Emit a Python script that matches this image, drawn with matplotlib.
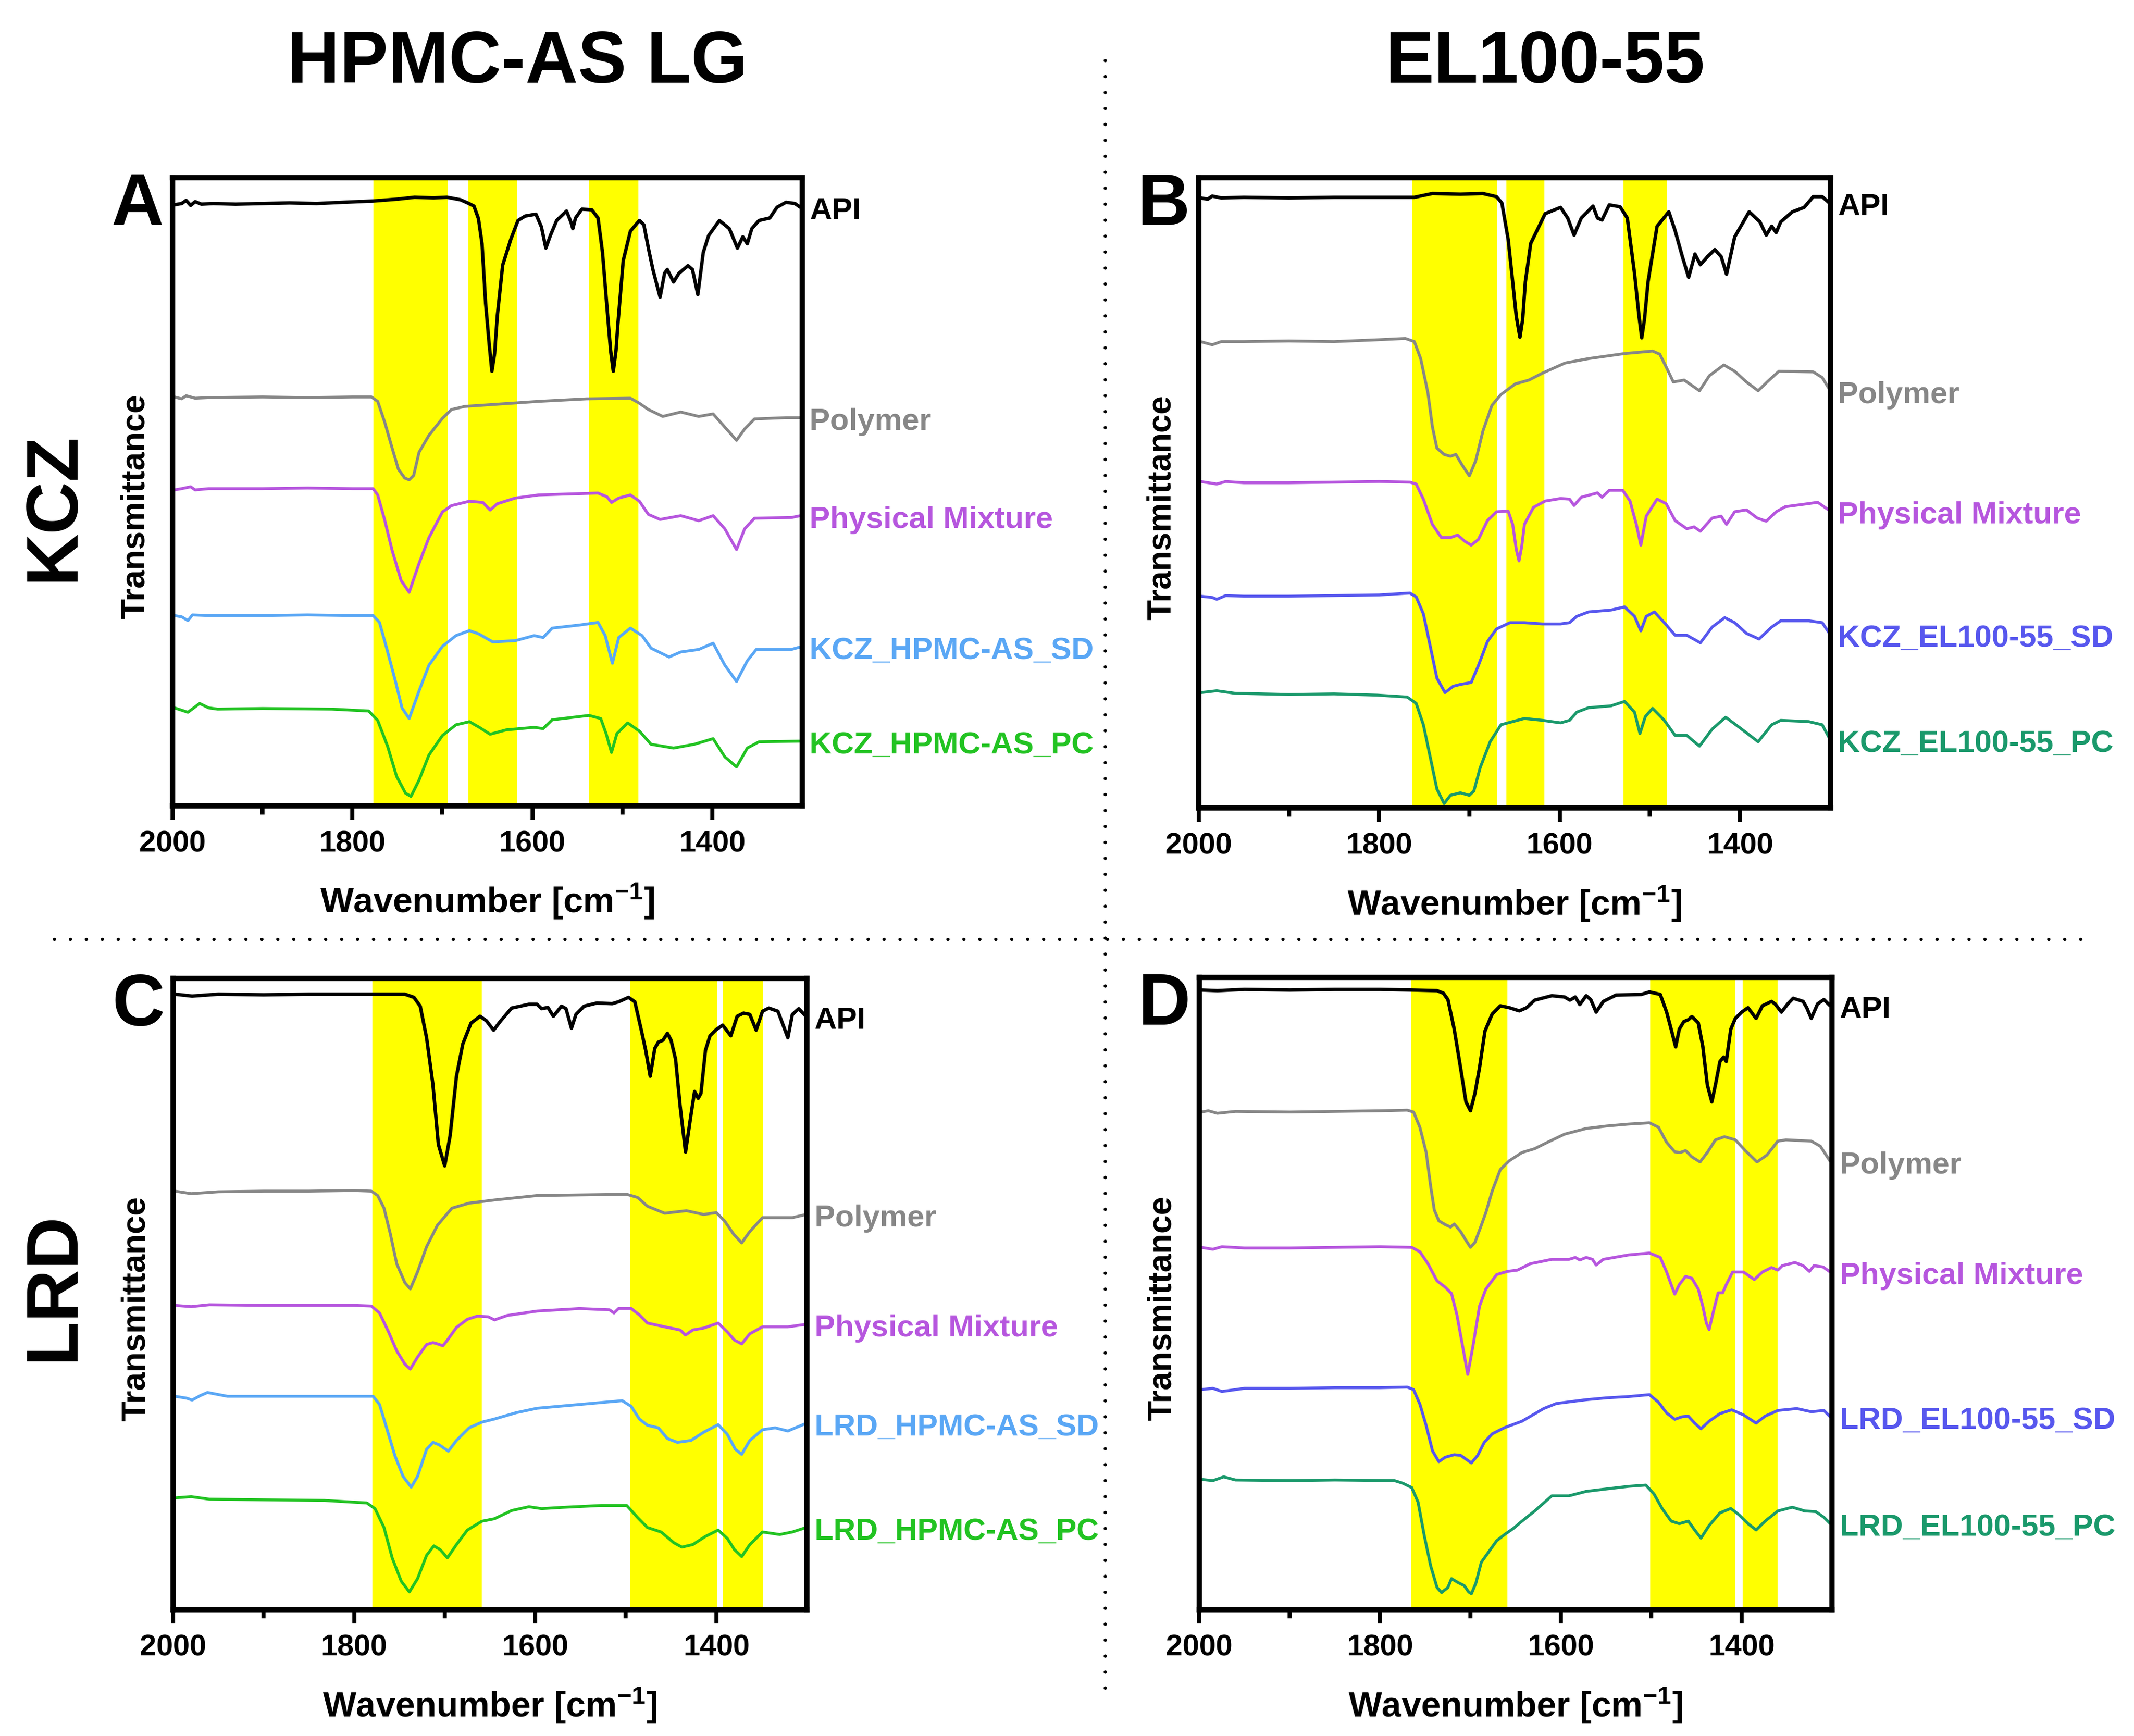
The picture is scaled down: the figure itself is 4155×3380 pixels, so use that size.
import matplotlib
matplotlib.use('Agg')
import matplotlib.pyplot as plt
from matplotlib.lines import Line2D

plt.rcParams['font.family'] = ['Liberation Sans', 'DejaVu Sans']
plt.rcParams['font.weight'] = 'bold'
plt.rcParams['mathtext.fontset'] = 'custom'
plt.rcParams['mathtext.rm'] = 'Liberation Sans:bold'
plt.rcParams['mathtext.it'] = 'Liberation Sans:bold'
plt.rcParams['mathtext.bf'] = 'Liberation Sans:bold'

# ---------------- data (wavenumber [cm-1], offset transmittance [a.u.]) ----------------
COL_TITLES = ['HPMC-AS LG', 'EL100-55']
ROW_TITLES = ['KCZ', 'LRD']
PANEL_LETTERS = ['A', 'B', 'C', 'D']
X_MAJOR = [2000, 1800, 1600, 1400]
X_MINOR = [1900, 1700, 1500]
X_LABEL = r'Wavenumber [cm$^{-1}$]'
Y_LABEL = 'Transmittance'

A_BANDS = [(1777, 1694), (1671, 1617), (1537, 1482)]
B_BANDS = [(1763, 1669), (1659, 1617), (1529, 1481)]
C_BANDS = [(1780, 1659), (1495, 1399), (1393, 1348)]
D_BANDS = [(1766, 1659), (1501, 1407), (1399, 1360)]

A_NAMES = ['API', 'Polymer', 'Physical Mixture', 'KCZ_HPMC-AS_SD', 'KCZ_HPMC-AS_PC']
B_NAMES = ['API', 'Polymer', 'Physical Mixture', 'KCZ_EL100-55_SD', 'KCZ_EL100-55_PC']
C_NAMES = ['API', 'Polymer', 'Physical Mixture', 'LRD_HPMC-AS_SD', 'LRD_HPMC-AS_PC']
D_NAMES = ['API', 'Polymer', 'Physical Mixture', 'LRD_EL100-55_SD', 'LRD_EL100-55_PC']

HPMC_COLORS = ['#000000', '#878787', '#B656DE', '#5AA7F5', '#22C322']
EL_COLORS = ['#000000', '#878787', '#B656DE', '#5757EE', '#1A996B']

A_API = [(1998, 95.7), (1990, 95.9), (1985, 96.4), (1980, 95.6), (1975, 96.2), (1968, 95.8), (1955, 95.9),
         (1930, 95.8), (1900, 95.9), (1870, 96.0), (1840, 95.9), (1810, 96.1), (1777, 96.3), (1750, 96.6),
         (1731, 96.9), (1710, 96.8), (1695, 96.9), (1680, 96.5), (1672, 96.0), (1665, 95.5), (1660, 93.5),
         (1656, 89.5), (1652, 80.0), (1648, 73.5), (1645, 69.2), (1642, 72.0), (1639, 78.0), (1633, 86.1),
         (1624, 90.2), (1616, 93.2), (1608, 93.9), (1596, 94.2), (1590, 92.2), (1585, 88.8), (1580, 90.8),
         (1573, 93.2), (1562, 94.7), (1557, 92.9), (1555, 91.9), (1552, 93.6), (1545, 95.0), (1534, 94.9),
         (1527, 93.6), (1522, 88.1), (1517, 79.3), (1513, 72.5), (1510, 69.2), (1507, 72.5), (1505, 76.6),
         (1499, 86.8), (1491, 91.5), (1481, 93.2), (1476, 92.5), (1471, 88.8), (1466, 85.4), (1458, 81.0),
         (1453, 84.8), (1450, 85.4), (1443, 83.4), (1437, 84.8), (1427, 86.0), (1422, 85.4), (1416, 81.4),
         (1410, 88.1), (1404, 90.8), (1392, 93.2), (1381, 91.9), (1372, 88.8), (1366, 90.6), (1361, 89.5),
         (1356, 91.9), (1348, 93.2), (1336, 93.6), (1328, 95.3), (1318, 96.1), (1308, 95.9), (1302, 95.3)]
A_POLY = [(1998, 65.1), (1990, 64.8), (1985, 65.3), (1975, 64.9), (1960, 65.0), (1900, 65.1), (1850, 65.0),
          (1800, 65.1), (1779, 65.1), (1772, 64.4), (1764, 61.0), (1756, 57.0), (1749, 53.6), (1742, 52.2),
          (1737, 51.9), (1732, 52.6), (1726, 56.3), (1715, 59.0), (1700, 61.7), (1690, 63.1), (1675, 63.6),
          (1644, 63.9), (1593, 64.4), (1540, 64.8), (1491, 64.9), (1481, 64.1), (1471, 63.1), (1455, 62.0),
          (1435, 62.7), (1415, 62.0), (1399, 62.4), (1386, 60.3), (1373, 58.2), (1364, 60.0), (1353, 61.6),
          (1318, 61.8), (1302, 61.8)]
A_PM = [(1998, 50.3), (1990, 50.5), (1980, 50.8), (1975, 50.3), (1960, 50.5), (1900, 50.5), (1850, 50.6),
        (1800, 50.5), (1777, 50.5), (1772, 49.5), (1764, 45.4), (1756, 40.7), (1746, 35.9), (1737, 34.0),
        (1726, 38.6), (1715, 42.7), (1700, 46.8), (1690, 47.8), (1670, 48.5), (1655, 48.3), (1647, 47.1),
        (1639, 48.1), (1619, 49.0), (1593, 49.5), (1527, 49.8), (1517, 49.2), (1512, 48.3), (1504, 49.0),
        (1491, 49.5), (1481, 48.5), (1471, 46.4), (1458, 45.6), (1435, 46.2), (1415, 45.4), (1399, 46.2),
        (1386, 44.1), (1373, 40.8), (1364, 44.1), (1353, 45.8), (1312, 45.9), (1302, 46.2)]
A_SD = [(1998, 30.3), (1990, 30.1), (1983, 29.5), (1978, 30.4), (1960, 30.3), (1900, 30.3), (1850, 30.4),
        (1800, 30.3), (1777, 30.3), (1770, 29.2), (1762, 25.1), (1752, 19.7), (1745, 15.6), (1737, 13.9),
        (1726, 18.3), (1715, 22.4), (1700, 25.4), (1685, 27.1), (1670, 27.9), (1660, 27.4), (1644, 26.1),
        (1619, 26.3), (1598, 27.1), (1588, 26.8), (1578, 28.3), (1547, 28.8), (1527, 29.2), (1519, 27.1),
        (1511, 22.7), (1504, 26.8), (1491, 28.3), (1478, 27.1), (1468, 25.1), (1448, 23.7), (1435, 24.5),
        (1415, 24.9), (1399, 25.9), (1386, 22.4), (1373, 19.8), (1361, 23.1), (1351, 24.9), (1312, 24.9),
        (1302, 25.3)]
A_PC = [(1998, 15.6), (1983, 14.9), (1970, 16.3), (1960, 15.6), (1950, 15.4), (1900, 15.5), (1823, 15.4),
        (1782, 15.1), (1772, 13.6), (1761, 9.5), (1751, 4.7), (1741, 2.0), (1735, 1.5), (1726, 4.1),
        (1715, 8.1), (1700, 11.2), (1685, 12.9), (1670, 13.4), (1659, 12.5), (1647, 11.4), (1629, 12.1),
        (1598, 12.5), (1588, 12.3), (1578, 13.7), (1537, 14.4), (1524, 13.9), (1518, 11.5), (1512, 8.5),
        (1506, 11.5), (1494, 13.2), (1481, 11.9), (1468, 9.8), (1443, 9.2), (1420, 9.8), (1399, 10.7),
        (1386, 7.8), (1373, 6.2), (1361, 9.2), (1348, 10.2), (1302, 10.3)]

B_API = [(1998, 96.8), (1990, 96.6), (1985, 97.1), (1975, 96.8), (1950, 96.9), (1900, 96.8), (1850, 96.9),
         (1800, 96.9), (1761, 96.9), (1741, 97.5), (1710, 97.4), (1685, 97.5), (1670, 97.0), (1664, 96.0),
         (1657, 90.2), (1652, 83.5), (1648, 78.0), (1644, 74.7), (1641, 77.5), (1638, 83.5), (1632, 89.6),
         (1616, 94.3), (1599, 95.3), (1591, 93.6), (1584, 90.9), (1576, 93.6), (1563, 95.5), (1558, 93.6),
         (1553, 93.3), (1545, 95.7), (1533, 95.4), (1525, 93.6), (1517, 84.8), (1512, 78.0), (1509, 74.6),
         (1506, 77.5), (1502, 83.5), (1492, 92.3), (1479, 94.6), (1472, 91.6), (1464, 87.5), (1457, 84.2),
         (1450, 87.9), (1444, 86.2), (1436, 87.5), (1428, 88.6), (1421, 87.5), (1415, 84.7), (1406, 90.6),
         (1390, 94.6), (1378, 93.0), (1371, 90.9), (1365, 92.3), (1360, 91.3), (1355, 93.0), (1342, 94.6),
         (1329, 95.3), (1319, 97.0), (1309, 97.0), (1301, 96.0)]
B_POLY = [(1998, 74.0), (1985, 73.5), (1975, 74.0), (1950, 74.0), (1900, 74.1), (1850, 74.0), (1800, 74.3),
          (1771, 74.5), (1761, 74.0), (1754, 71.3), (1746, 65.9), (1741, 60.5), (1736, 57.1), (1728, 56.1),
          (1721, 55.8), (1715, 56.1), (1708, 54.4), (1700, 52.7), (1693, 55.1), (1685, 59.8), (1675, 63.9),
          (1665, 65.6), (1649, 67.3), (1634, 67.9), (1619, 69.0), (1594, 70.6), (1568, 71.3), (1528, 72.1),
          (1497, 72.5), (1489, 72.0), (1482, 70.0), (1474, 67.6), (1462, 67.9), (1445, 66.2), (1434, 68.6),
          (1418, 70.3), (1406, 69.3), (1393, 67.6), (1380, 66.2), (1370, 67.6), (1357, 69.3), (1319, 69.2),
          (1309, 68.3), (1300, 66.2)]
B_PM = [(1998, 51.8), (1980, 51.4), (1970, 51.8), (1950, 51.6), (1900, 51.6), (1850, 51.7), (1800, 51.8),
        (1766, 51.7), (1759, 51.4), (1751, 49.0), (1741, 45.0), (1731, 42.9), (1721, 42.9), (1713, 43.3),
        (1705, 42.3), (1698, 41.7), (1690, 42.6), (1680, 45.6), (1670, 47.0), (1657, 47.1), (1652, 45.0),
        (1648, 41.0), (1645, 39.2), (1642, 41.5), (1639, 45.0), (1629, 47.7), (1616, 48.7), (1599, 49.1),
        (1589, 49.0), (1584, 48.0), (1576, 49.3), (1558, 50.0), (1553, 49.3), (1545, 50.4), (1530, 50.4),
        (1522, 48.7), (1515, 45.0), (1510, 41.7), (1504, 46.3), (1492, 49.0), (1482, 48.3), (1472, 45.6),
        (1459, 44.3), (1451, 44.6), (1444, 43.9), (1431, 46.0), (1421, 46.3), (1415, 45.0), (1406, 47.0),
        (1393, 47.3), (1381, 46.0), (1371, 45.5), (1360, 47.0), (1350, 47.8), (1329, 48.2), (1314, 48.5),
        (1300, 47.1)]
B_SD = [(1998, 33.6), (1985, 33.4), (1980, 33.1), (1970, 33.7), (1950, 33.6), (1900, 33.6), (1850, 33.7),
        (1800, 33.8), (1766, 34.1), (1759, 33.5), (1751, 30.8), (1743, 25.4), (1736, 20.6), (1727, 18.3),
        (1718, 19.3), (1710, 19.6), (1698, 19.9), (1690, 22.6), (1680, 26.4), (1670, 28.4), (1655, 29.4),
        (1639, 29.4), (1619, 29.2), (1599, 29.2), (1589, 29.4), (1581, 30.4), (1568, 31.1), (1543, 31.4),
        (1528, 31.9), (1517, 30.4), (1510, 28.1), (1504, 30.4), (1495, 31.1), (1484, 29.4), (1472, 27.4),
        (1459, 27.4), (1444, 26.2), (1431, 28.7), (1417, 30.2), (1406, 29.4), (1393, 27.7), (1379, 26.8),
        (1365, 28.7), (1355, 29.7), (1324, 29.7), (1309, 29.4), (1300, 27.5)]
B_PC = [(1998, 18.3), (1980, 18.6), (1960, 18.2), (1900, 18.0), (1850, 18.1), (1802, 17.9), (1769, 17.6),
        (1759, 16.6), (1751, 13.2), (1743, 7.8), (1736, 3.0), (1728, 0.7), (1721, 2.0), (1710, 2.4),
        (1700, 2.0), (1695, 2.7), (1688, 6.4), (1677, 10.5), (1665, 13.2), (1639, 14.2), (1619, 13.9),
        (1599, 13.5), (1589, 13.9), (1581, 15.2), (1568, 15.9), (1543, 16.2), (1528, 16.9), (1517, 15.2),
        (1511, 11.8), (1505, 14.5), (1497, 15.8), (1484, 13.9), (1472, 11.5), (1459, 11.5), (1445, 9.8),
        (1431, 12.5), (1416, 14.4), (1401, 12.8), (1380, 10.5), (1365, 13.2), (1355, 13.9), (1324, 13.7),
        (1309, 13.2), (1300, 10.8)]

C_API = [(1998, 97.5), (1979, 97.2), (1950, 97.5), (1900, 97.4), (1850, 97.5), (1800, 97.5), (1744, 97.5),
         (1734, 97.0), (1727, 95.6), (1720, 90.6), (1713, 83.2), (1707, 73.7), (1700, 70.3), (1694, 75.1),
         (1687, 84.5), (1680, 89.6), (1671, 92.9), (1661, 94.0), (1654, 93.3), (1646, 91.8), (1638, 93.3),
         (1626, 95.3), (1607, 95.9), (1598, 95.9), (1593, 95.2), (1586, 95.4), (1580, 94.0), (1571, 95.6),
         (1566, 95.2), (1560, 92.1), (1555, 94.3), (1546, 95.6), (1532, 96.1), (1515, 96.0), (1508, 96.3),
         (1497, 97.0), (1490, 96.3), (1483, 91.9), (1478, 88.6), (1473, 84.5), (1468, 88.9), (1464, 89.9),
         (1459, 90.2), (1454, 91.3), (1450, 90.2), (1445, 87.2), (1440, 79.8), (1434, 72.5), (1428, 78.4),
         (1424, 82.1), (1420, 81.0), (1417, 81.8), (1412, 88.6), (1407, 90.9), (1400, 91.9), (1393, 92.6),
         (1384, 90.9), (1377, 94.0), (1370, 94.5), (1363, 94.3), (1356, 91.8), (1349, 94.8), (1342, 95.3),
         (1332, 94.8), (1328, 93.3), (1321, 90.6), (1316, 94.3), (1309, 95.2), (1301, 94.0)]
C_POLY = [(1998, 66.3), (1980, 65.9), (1950, 66.2), (1900, 66.3), (1850, 66.3), (1800, 66.4), (1781, 66.3),
          (1774, 65.6), (1767, 63.6), (1760, 59.5), (1753, 54.8), (1744, 51.8), (1738, 50.8), (1730, 53.5),
          (1720, 57.5), (1708, 60.9), (1692, 63.6), (1673, 64.4), (1645, 64.9), (1598, 65.6), (1551, 65.7),
          (1499, 65.8), (1487, 65.3), (1476, 63.9), (1457, 62.8), (1433, 63.2), (1414, 62.6), (1400, 62.9),
          (1391, 61.6), (1381, 59.5), (1372, 58.1), (1363, 59.9), (1349, 62.1), (1316, 62.1), (1301, 62.6)]
C_PM = [(1998, 48.2), (1980, 48.0), (1960, 48.3), (1900, 48.2), (1850, 48.2), (1800, 48.2), (1781, 48.1),
        (1772, 47.0), (1762, 44.0), (1753, 41.0), (1744, 38.9), (1738, 38.1), (1730, 40.0), (1720, 42.0),
        (1713, 42.3), (1708, 42.1), (1702, 41.8), (1697, 42.7), (1687, 44.7), (1675, 46.0), (1664, 46.5),
        (1652, 46.4), (1645, 45.9), (1631, 46.6), (1598, 47.3), (1551, 47.7), (1518, 47.5), (1513, 47.0),
        (1508, 47.7), (1494, 47.7), (1485, 46.7), (1476, 45.4), (1457, 44.8), (1440, 44.3), (1434, 43.5),
        (1426, 44.3), (1414, 44.6), (1398, 45.4), (1388, 44.0), (1380, 42.7), (1372, 42.1), (1363, 43.7),
        (1349, 44.8), (1321, 44.8), (1301, 45.2)]
C_SD = [(1998, 33.8), (1985, 33.5), (1979, 33.2), (1970, 33.9), (1962, 34.4), (1940, 33.8), (1900, 33.8),
        (1850, 33.8), (1800, 33.8), (1779, 33.8), (1772, 32.5), (1765, 29.2), (1755, 24.4), (1746, 21.1),
        (1737, 19.4), (1730, 21.1), (1720, 25.4), (1713, 26.5), (1706, 26.1), (1696, 25.1), (1687, 26.8),
        (1673, 28.8), (1659, 29.7), (1645, 30.2), (1621, 31.2), (1598, 31.9), (1551, 32.5), (1504, 33.1),
        (1494, 32.2), (1485, 30.2), (1476, 29.2), (1464, 28.8), (1454, 27.1), (1443, 26.5), (1428, 26.8),
        (1414, 28.1), (1398, 29.3), (1388, 27.8), (1379, 25.4), (1372, 24.6), (1363, 26.8), (1349, 28.5),
        (1335, 28.8), (1321, 28.3), (1301, 29.5)]
C_PC = [(1998, 17.7), (1980, 17.9), (1960, 17.5), (1900, 17.4), (1833, 17.3), (1786, 16.9), (1777, 16.0),
        (1767, 13.0), (1758, 8.2), (1748, 4.5), (1739, 2.8), (1730, 4.9), (1720, 8.6), (1712, 10.1),
        (1705, 9.5), (1697, 8.2), (1687, 10.3), (1675, 12.6), (1659, 14.0), (1645, 14.4), (1626, 15.7),
        (1607, 16.3), (1593, 16.0), (1570, 16.2), (1527, 16.5), (1499, 16.5), (1487, 14.6), (1476, 13.0),
        (1461, 12.3), (1447, 10.6), (1438, 9.9), (1426, 10.3), (1412, 11.6), (1398, 12.6), (1388, 11.3),
        (1380, 9.5), (1372, 8.4), (1363, 10.3), (1349, 12.3), (1330, 11.9), (1316, 12.3), (1301, 13.0)]

D_API = [(1998, 98.0), (1980, 97.9), (1950, 98.1), (1900, 98.0), (1850, 98.1), (1800, 98.1), (1765, 98.0),
         (1737, 97.9), (1730, 97.5), (1725, 96.5), (1718, 91.8), (1711, 85.7), (1705, 80.3), (1700, 78.9),
         (1695, 81.7), (1690, 85.7), (1684, 91.5), (1676, 94.2), (1667, 95.5), (1657, 95.2), (1646, 94.7),
         (1638, 95.2), (1629, 96.4), (1610, 97.1), (1596, 96.9), (1590, 96.4), (1584, 96.9), (1579, 95.7),
         (1572, 97.1), (1567, 96.5), (1561, 94.5), (1553, 96.2), (1539, 97.2), (1511, 97.3), (1502, 97.7),
         (1490, 97.3), (1483, 94.5), (1478, 91.8), (1473, 89.0), (1469, 91.8), (1464, 93.0), (1459, 93.3),
         (1455, 93.8), (1448, 92.8), (1443, 89.1), (1438, 83.0), (1433, 80.3), (1429, 83.0), (1424, 86.7),
         (1420, 87.4), (1417, 86.7), (1412, 91.8), (1407, 93.5), (1400, 94.5), (1393, 95.2), (1384, 93.5),
         (1377, 95.5), (1367, 96.2), (1363, 95.8), (1356, 94.5), (1349, 95.8), (1343, 96.7), (1332, 96.2),
         (1328, 95.2), (1323, 93.5), (1316, 95.8), (1309, 96.5), (1302, 95.5)]
D_POLY = [(1998, 78.7), (1990, 78.9), (1980, 78.5), (1960, 78.8), (1900, 78.7), (1850, 78.8), (1800, 78.9),
          (1770, 79.0), (1763, 78.7), (1756, 76.3), (1749, 72.3), (1744, 66.9), (1740, 63.2), (1735, 61.5),
          (1728, 60.9), (1722, 60.5), (1718, 61.0), (1711, 59.8), (1705, 58.4), (1700, 57.3), (1695, 58.1),
          (1688, 60.8), (1683, 62.8), (1676, 66.2), (1667, 69.6), (1657, 71.0), (1643, 72.3), (1629, 72.9),
          (1615, 73.9), (1596, 75.2), (1572, 76.1), (1549, 76.5), (1525, 76.8), (1502, 77.0), (1492, 76.3),
          (1483, 73.9), (1474, 72.4), (1468, 72.3), (1462, 72.6), (1455, 71.6), (1446, 70.8), (1438, 72.3),
          (1429, 74.3), (1419, 74.8), (1407, 74.3), (1396, 72.6), (1383, 70.8), (1372, 71.9), (1360, 74.1),
          (1351, 74.3), (1323, 74.1), (1313, 73.3), (1302, 70.9)]
D_PM = [(1998, 57.3), (1985, 57.0), (1975, 57.4), (1950, 57.2), (1900, 57.2), (1850, 57.3), (1800, 57.4),
        (1765, 57.3), (1756, 56.6), (1747, 54.7), (1737, 52.0), (1728, 51.0), (1721, 50.0), (1715, 46.6),
        (1709, 41.9), (1703, 37.2), (1697, 41.9), (1690, 48.0), (1683, 50.7), (1671, 53.0), (1659, 53.5),
        (1648, 53.7), (1634, 54.7), (1610, 55.4), (1591, 55.4), (1584, 55.7), (1579, 55.3), (1572, 55.7),
        (1565, 55.4), (1561, 54.5), (1553, 55.4), (1525, 56.1), (1502, 56.4), (1490, 55.7), (1483, 53.4),
        (1478, 51.4), (1474, 49.9), (1469, 51.4), (1462, 52.7), (1455, 52.4), (1448, 50.7), (1443, 48.0),
        (1439, 45.3), (1436, 44.3), (1431, 47.3), (1426, 50.1), (1421, 50.1), (1417, 51.4), (1410, 53.4),
        (1398, 53.4), (1386, 52.2), (1377, 53.4), (1367, 54.1), (1360, 53.7), (1355, 54.4), (1341, 54.9),
        (1332, 54.4), (1325, 53.5), (1320, 54.4), (1310, 54.2), (1302, 53.4)]
D_SD = [(1998, 34.8), (1985, 35.0), (1975, 34.5), (1950, 35.0), (1900, 35.0), (1850, 35.1), (1800, 35.1),
        (1770, 35.2), (1763, 34.8), (1756, 32.5), (1749, 29.1), (1742, 25.1), (1735, 23.4), (1728, 24.1),
        (1718, 24.5), (1711, 24.4), (1704, 23.7), (1699, 23.2), (1692, 24.4), (1685, 26.4), (1676, 27.8),
        (1662, 28.8), (1643, 29.8), (1619, 31.8), (1605, 32.6), (1572, 33.2), (1549, 33.5), (1525, 33.7),
        (1502, 34.0), (1492, 32.8), (1483, 31.1), (1474, 30.1), (1466, 30.5), (1459, 30.6), (1452, 29.5),
        (1445, 28.6), (1436, 29.8), (1424, 31.0), (1411, 31.6), (1398, 30.8), (1384, 29.5), (1374, 30.6),
        (1360, 31.5), (1339, 31.8), (1323, 31.3), (1309, 31.5), (1302, 30.5)]
D_PC = [(1998, 20.6), (1985, 20.4), (1973, 21.0), (1960, 20.5), (1900, 20.4), (1850, 20.5), (1784, 20.4),
        (1775, 20.0), (1765, 19.3), (1758, 17.0), (1751, 11.6), (1744, 6.9), (1737, 3.5), (1732, 2.7),
        (1725, 3.5), (1721, 4.9), (1714, 4.3), (1707, 3.8), (1702, 2.8), (1699, 2.5), (1694, 4.2),
        (1688, 7.5), (1681, 8.9), (1671, 10.9), (1662, 11.9), (1652, 12.9), (1643, 14.0), (1629, 15.6),
        (1610, 18.0), (1591, 18.0), (1572, 18.7), (1549, 19.1), (1525, 19.5), (1506, 19.7), (1497, 18.3),
        (1488, 16.0), (1478, 14.0), (1469, 13.6), (1459, 14.0), (1452, 12.6), (1445, 11.3), (1436, 13.3),
        (1424, 15.3), (1412, 16.0), (1403, 15.0), (1393, 13.6), (1384, 12.6), (1374, 14.0), (1360, 15.6),
        (1344, 16.2), (1330, 15.6), (1318, 15.5), (1309, 14.6), (1302, 13.6)]

PANELS = [
    dict(letter='A', bands=A_BANDS, names=A_NAMES, colors=HPMC_COLORS,
         spectra=[A_API, A_POLY, A_PM, A_SD, A_PC], rect=[0.0809, 0.5358, 0.2950, 0.3618]),
    dict(letter='B', bands=B_BANDS, names=B_NAMES, colors=EL_COLORS,
         spectra=[B_API, B_POLY, B_PM, B_SD, B_PC], rect=[0.5617, 0.5346, 0.2960, 0.3630]),
    dict(letter='C', bands=C_BANDS, names=C_NAMES, colors=HPMC_COLORS,
         spectra=[C_API, C_POLY, C_PM, C_SD, C_PC], rect=[0.0811, 0.0728, 0.2970, 0.3636]),
    dict(letter='D', bands=D_BANDS, names=D_NAMES, colors=EL_COLORS,
         spectra=[D_API, D_POLY, D_PM, D_SD, D_PC], rect=[0.5620, 0.0728, 0.2965, 0.3642]),
]

# ---------------- figure ----------------
W, H, DPI = 4155, 3380, 300
fig = plt.figure(figsize=(W / DPI, H / DPI), dpi=DPI)

for p in PANELS:
    ax = fig.add_axes(p['rect'])
    for lo, hi in p['bands']:
        ax.axvspan(hi, lo, color='#FFFF00', lw=0, zorder=0)
    for i, (spec, name, col) in enumerate(zip(p['spectra'], p['names'], p['colors'])):
        xs = [pt[0] for pt in spec]
        ys = [pt[1] for pt in spec]
        ax.plot(xs, ys, color=col, lw=1.6 if i == 0 else 1.35, zorder=3,
                solid_joinstyle='round', solid_capstyle='round', clip_on=False)
        ax.annotate(name, xy=(1.0, ys[-1]), xycoords=('axes fraction', 'data'),
                    xytext=(3.5, -2), textcoords='offset points', ha='left', va='center',
                    color=col, fontsize=14.4, fontweight='bold', annotation_clip=False)
    ax.set_xlim(2000, 1300)
    ax.set_ylim(0, 100)
    ax.set_xticks(X_MAJOR)
    ax.set_xticks(X_MINOR, minor=True)
    ax.set_xticklabels([str(v) for v in X_MAJOR])
    ax.set_yticks([])
    ax.tick_params(axis='x', which='major', direction='out', length=6.5, width=1.9,
                   labelsize=14, pad=5, top=False)
    ax.tick_params(axis='x', which='minor', direction='out', length=4.0, width=1.9, top=False)
    for lab in ax.get_xticklabels():
        lab.set_fontweight('bold')
    for s in ax.spines.values():
        s.set_linewidth(2.5)
        s.set_zorder(5)
    ax.set_xlabel(X_LABEL, fontsize=16.5, fontweight='bold')
    ax.xaxis.set_label_coords(0.5, -0.170)
    ax.xaxis.label.set_va('baseline')
    ax.set_ylabel(Y_LABEL, fontsize=15.5, fontweight='bold')
    ax.yaxis.set_label_coords(-0.0587, 0.477)
    ax.yaxis.label.set_va('center')
    x0, y0, w, h = p['rect']
    fig.text(x0 - 0.0164, y0 + h - 0.0162, p['letter'], fontsize=34, fontweight='bold',
             ha='center', va='center')

# column and row titles
fig.text(0.2424, 0.9633, COL_TITLES[0], fontsize=34, fontweight='bold', ha='center', va='center')
fig.text(0.7240, 0.9633, COL_TITLES[1], fontsize=34, fontweight='bold', ha='center', va='center')
fig.text(0.0255, 0.708, ROW_TITLES[0], fontsize=34, fontweight='bold', ha='center', va='center',
         rotation=90)
fig.text(0.0255, 0.259, ROW_TITLES[1], fontsize=34, fontweight='bold', ha='center', va='center',
         rotation=90)

# dotted separators
fig.add_artist(Line2D([0.518, 0.518], [0.965, 0.02], transform=fig.transFigure, color='black',
                      lw=1.55, linestyle=(0, (0.01, 4.8)), dash_capstyle='round'))
fig.add_artist(Line2D([0.0255, 0.979], [0.459, 0.459], transform=fig.transFigure, color='black',
                      lw=1.55, linestyle=(0, (0.01, 4.8)), dash_capstyle='round'))

fig.savefig('out.png', dpi=DPI)
